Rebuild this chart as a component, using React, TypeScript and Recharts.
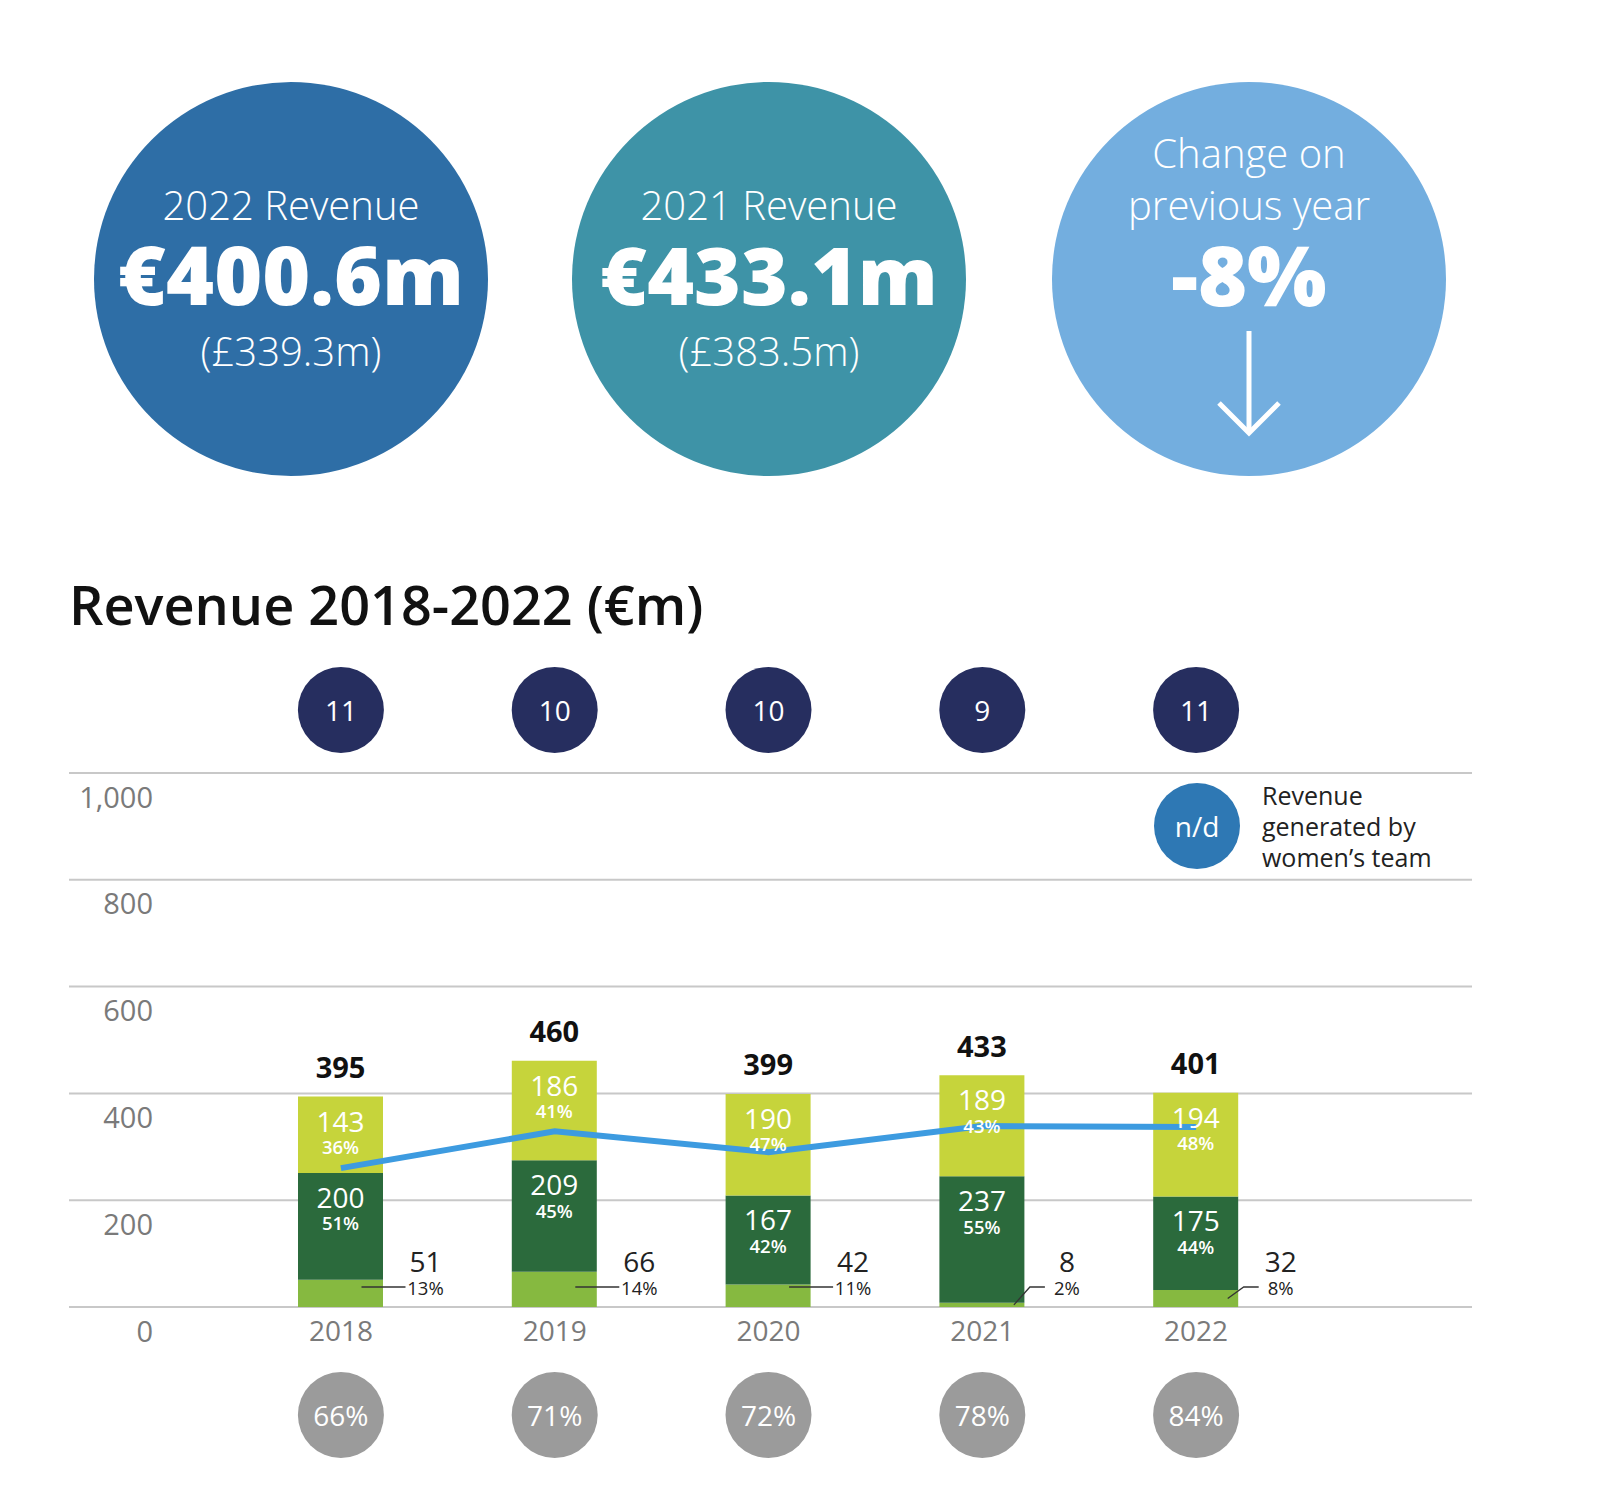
import React from "react";
import {
  ComposedChart,
  Bar,
  Line,
  XAxis,
  YAxis,
  CartesianGrid,
  LabelList,
} from "recharts";

const FONT = "'Open Sans', 'Noto Sans', Arial, sans-serif";

// chart data (€m)
const years = ["2018", "2019", "2020", "2021", "2022"];
const lowerValues = [51, 66, 42, 8, 32];
const lowerShares = ["13%", "14%", "11%", "2%", "8%"];
const middleValues = [200, 209, 167, 237, 175];
const middleShares = ["51%", "45%", "42%", "55%", "44%"];
const upperValues = [143, 186, 190, 189, 194];
const upperShares = ["36%", "41%", "47%", "43%", "48%"];
const totals = [395, 460, 399, 433, 401];
const trendValues = [260, 329, 290, 339, 337];
const topCounts = ["11", "10", "10", "9", "11"];
const bottomShares = ["66%", "71%", "72%", "78%", "84%"];
const yTicks = [0, 200, 400, 600, 800, 1000];

const rows = years.map((year, i) => ({
  year,
  lower: lowerValues[i],
  middle: middleValues[i],
  upper: upperValues[i],
  trend: trendValues[i],
}));

const boxOf = (p: any) => {
  const vb = p.viewBox || {};
  const x = Number(vb.x ?? p.x);
  const y = Number(vb.y ?? p.y);
  const w = Number(vb.width ?? p.width);
  const h = Number(vb.height ?? p.height);
  return {
    cx: x + w / 2,
    top: Math.min(y, y + h),
    bottom: Math.max(y, y + h),
    h: Math.abs(h),
  };
};

const segmentLabel = (values: number[], shares: string[]) => (p: any) => {
  const { cx, top } = boxOf(p);
  const i = p.index;
  return (
    <g>
      <text x={cx} y={top + 24} textAnchor="middle" dominantBaseline="central" fill="#fff" fontSize={28} fontFamily={FONT}>
        {values[i]}
      </text>
      <text x={cx} y={top + 50} textAnchor="middle" dominantBaseline="central" fill="#fff" fontSize={18.5} fontWeight={600} fontFamily={FONT}>
        {shares[i]}
      </text>
    </g>
  );
};

const totalLabel = (p: any) => {
  const { cx, top } = boxOf(p);
  return (
    <text x={cx} y={top - 30} textAnchor="middle" dominantBaseline="central" fill="#111" fontSize={29} fontWeight={700} fontFamily={FONT}>
      {totals[p.index]}
    </text>
  );
};

const lowerLabel = (p: any) => {
  const { cx, top, bottom, h } = boxOf(p);
  const i = p.index;
  const ly = bottom - 20;
  const leader =
    h > 21 ? (
      <line x1={cx + 21} x2={cx + 65} y1={ly} y2={ly} stroke="#333" strokeWidth={1.3} />
    ) : (
      <polyline
        points={`${cx + 32},${(top + bottom) / 2} ${cx + 48},${ly} ${cx + 63},${ly}`}
        fill="none"
        stroke="#333"
        strokeWidth={1.3}
      />
    );
  return (
    <g>
      {leader}
      <text x={cx + 85} y={bottom - 46} textAnchor="middle" dominantBaseline="central" fill="#222" fontSize={28} fontFamily={FONT}>
        {lowerValues[i]}
      </text>
      <text x={cx + 85} y={ly} textAnchor="middle" dominantBaseline="central" fill="#222" fontSize={18.5} fontFamily={FONT}>
        {lowerShares[i]}
      </text>
    </g>
  );
};

const YTick = (p: any) => (
  <text x={p.x + 84} y={p.y + 23} textAnchor="end" dominantBaseline="central" fill="#7a7a7a" fontSize={29} fontFamily={FONT}>
    {Number(p.payload.value).toLocaleString("en-US")}
  </text>
);

const YearTick = (p: any) => {
  const i = years.indexOf(String(p.payload.value));
  return (
    <g>
      <text x={p.x} y={p.y + 23} textAnchor="middle" dominantBaseline="central" fill="#7a7a7a" fontSize={28} fontFamily={FONT}>
        {p.payload.value}
      </text>
      <circle cx={p.x} cy={p.y + 108} r={43} fill="#9b9b9b" />
      <text x={p.x} y={p.y + 108} textAnchor="middle" dominantBaseline="central" fill="#fff" fontSize={28} fontFamily={FONT}>
        {bottomShares[i]}
      </text>
    </g>
  );
};

const CountTick = (p: any) => {
  const i = years.indexOf(String(p.payload.value));
  return (
    <g>
      <circle cx={p.x} cy={p.y - 63} r={43} fill="#262e5f" />
      <text x={p.x} y={p.y - 63} textAnchor="middle" dominantBaseline="central" fill="#fff" fontSize={28} fontFamily={FONT}>
        {topCounts[i]}
      </text>
    </g>
  );
};

function Kpi({ cx, fill, lines }: { cx: number; fill: string; lines: { t: string; y: number; size: number; bold?: boolean }[] }) {
  return (
    <g>
      <circle cx={cx} cy={279} r={197} fill={fill} />
      {lines.map((l) => (
        <text
          key={l.t}
          x={cx}
          y={l.y}
          textAnchor="middle"
          dominantBaseline="central"
          fill="#fff"
          fontSize={l.size}
          fontWeight={l.bold ? 800 : 300}
          fontFamily={FONT}
        >
          {l.t}
        </text>
      ))}
    </g>
  );
}

export default function App() {
  return (
    <div style={{ position: "absolute", left: 0, top: 0, width: 1611, height: 1486, background: "#fff" }}>
      <svg width={1611} height={1486} style={{ position: "absolute", left: 0, top: 0 }}>
        <Kpi
          cx={291}
          fill="#2e6ea6"
          lines={[
            { t: "2022 Revenue", y: 204, size: 40 },
            { t: "€400.6m", y: 273, size: 82, bold: true },
            { t: "(£339.3m)", y: 350, size: 40 },
          ]}
        />
        <Kpi
          cx={769}
          fill="#3e93a7"
          lines={[
            { t: "2021 Revenue", y: 204, size: 40 },
            { t: "€433.1m", y: 273, size: 80, bold: true },
            { t: "(£383.5m)", y: 350, size: 40 },
          ]}
        />
        <Kpi
          cx={1249}
          fill="#73aedf"
          lines={[
            { t: "Change on", y: 152, size: 40 },
            { t: "previous year", y: 204, size: 40 },
            { t: "-8%", y: 273, size: 84, bold: true },
          ]}
        />
        <line x1={1249} x2={1249} y1={331} y2={433} stroke="#fff" strokeWidth={5} />
        <polyline points="1219,403 1249,433 1279,403" fill="none" stroke="#fff" strokeWidth={5} />

        <text x={69} y={604} dominantBaseline="central" fill="#111" fontSize={54} fontWeight={600} fontFamily={FONT}>
          Revenue 2018-2022 (€m)
        </text>

        {/* legend */}
        <circle cx={1197} cy={826} r={43} fill="#2e78b4" />
        <text x={1197} y={826} textAnchor="middle" dominantBaseline="central" fill="#fff" fontSize={28} fontFamily={FONT}>
          n/d
        </text>
        {["Revenue", "generated by", "women’s team"].map((t, i) => (
          <text key={t} x={1262} y={795 + i * 31} dominantBaseline="central" fill="#222" fontSize={25} fontFamily={FONT}>
            {t}
          </text>
        ))}
      </svg>

      <div style={{ position: "absolute", left: 0, top: 640 }}>
        <ComposedChart width={1611} height={846} data={rows} margin={{ top: 33, right: 139, bottom: 0, left: 0 }}>
          <CartesianGrid xAxisId="main" vertical={false} stroke="#c8c8c8" strokeWidth={2} />
          <XAxis
            xAxisId="main"
            dataKey="year"
            padding={{ left: 165, right: 169 }}
            height={179}
            tickSize={0}
            tickMargin={0}
            axisLine={false}
            tickLine={false}
            interval={0}
            tick={YearTick}
          />
          <XAxis
            xAxisId="top"
            orientation="top"
            dataKey="year"
            padding={{ left: 165, right: 169 }}
            height={100}
            tickSize={0}
            tickMargin={0}
            axisLine={false}
            tickLine={false}
            interval={0}
            tick={CountTick}
          />
          <YAxis
            domain={[0, 1000]}
            ticks={yTicks}
            width={69}
            tickSize={0}
            tickMargin={0}
            axisLine={false}
            tickLine={false}
            interval={0}
            tick={YTick}
          />
          <Bar xAxisId="main" dataKey="lower" stackId="rev" barSize={85} fill="#86b940" isAnimationActive={false} />
          <Bar xAxisId="main" dataKey="middle" stackId="rev" barSize={85} fill="#2b6a3c" isAnimationActive={false} />
          <Bar xAxisId="main" dataKey="upper" stackId="rev" barSize={85} fill="#c6d43b" isAnimationActive={false} />
          <Line
            xAxisId="main"
            dataKey="trend"
            type="linear"
            stroke="#3d9be0"
            strokeWidth={6}
            dot={false}
            isAnimationActive={false}
          />
          {/* label layer above the line */}
          <Bar xAxisId="top" dataKey="lower" stackId="labels" barSize={85} fill="transparent" isAnimationActive={false}>
            <LabelList dataKey="lower" content={lowerLabel} />
          </Bar>
          <Bar xAxisId="top" dataKey="middle" stackId="labels" barSize={85} fill="transparent" isAnimationActive={false}>
            <LabelList dataKey="middle" content={segmentLabel(middleValues, middleShares)} />
          </Bar>
          <Bar xAxisId="top" dataKey="upper" stackId="labels" barSize={85} fill="transparent" isAnimationActive={false}>
            <LabelList dataKey="upper" content={segmentLabel(upperValues, upperShares)} />
            <LabelList dataKey="upper" content={totalLabel} />
          </Bar>
        </ComposedChart>
      </div>
    </div>
  );
}
